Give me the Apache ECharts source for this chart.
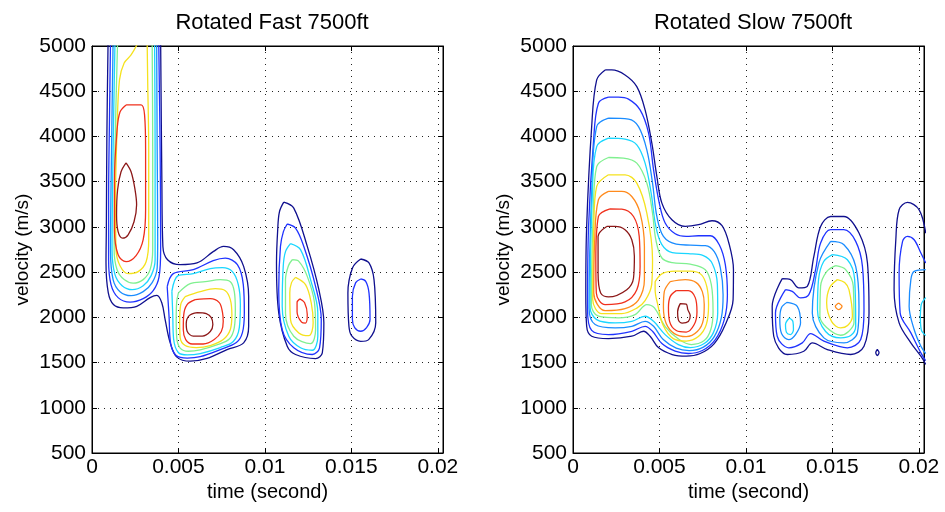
<!DOCTYPE html>
<html>
<head>
<meta charset="utf-8">
<script src="https://cdn.jsdelivr.net/npm/echarts@6/dist/echarts.min.js"></script>
<style>
html, body { margin: 0; padding: 0; background: #fff; }
#chart { width: 945px; height: 512px; }
</style>
</head>
<body>
<div id="chart"></div>
<script>
// contour lines, points are [time (ms), velocity (m/s)]
// level number 1 (lowest) .. 9 (highest) goes with each line further down

const xTickLabels = ['0', '0.005', '0.01', '0.015', '0.02'];
const titles = ['Rotated Fast 7500ft', 'Rotated Slow 7500ft'];

// ---- Rotated Fast ----
const fastOuter = [[0.93,5050],[0.86,4000],[0.83,3000],[0.81,2600],[0.94,2273],[1.24,2141],[1.81,2104],[2.59,2122],[3.36,2218],[3.75,2243],[4.04,2159],[4.23,1975],[4.52,1721],[4.91,1560],[5.68,1515],[6.65,1545],[7.81,1644],[8.77,1718],[9.06,1901],[9.06,2232],[8.77,2563],[8.19,2748],[7.61,2784],[7.03,2729],[6.07,2601],[5.10,2582],[4.37,2637],[4.10,2784],[4.04,3521],[3.97,5050]];
const fastTallBlue = [[1.07,5050],[1.01,4183],[0.96,3300],[0.96,2637],[1.10,2362],[1.51,2218],[2.20,2168],[2.96,2207],[3.54,2295],[3.88,2450],[3.97,2748],[3.94,3852],[3.86,5050]];
const fastTallAzure = [[1.22,5050],[1.13,3852],[1.07,2748],[1.22,2417],[1.62,2284],[2.26,2240],[2.96,2284],[3.48,2384],[3.77,2549],[3.80,2858],[3.77,3852],[3.74,5050]];
const fastTallCyan = [[1.33,5050],[1.22,3852],[1.16,2748],[1.33,2472],[1.74,2350],[2.32,2306],[2.96,2350],[3.42,2461],[3.65,2637],[3.65,3852],[3.62,5050]];
const fastTallGreen = [[1.48,5050],[1.33,3852],[1.28,2748],[1.45,2527],[1.86,2417],[2.38,2378],[2.96,2417],[3.36,2527],[3.51,2748],[3.51,3852],[3.48,5050]];
const fastTallYellow = [[2.70,5050],[2.26,4901],[1.86,4812],[1.59,4625],[1.45,4073],[1.36,3300],[1.39,2748],[1.62,2571],[2.09,2483],[2.67,2505],[3.13,2615],[3.28,2858],[3.28,3852],[3.22,4625],[3.19,5050]];
const fastTallRed = [[1.97,4349],[2.84,4349],[3.04,4238],[3.10,3852],[3.10,3189],[2.96,2858],[2.55,2682],[1.97,2615],[1.51,2693],[1.30,2969],[1.30,3521],[1.45,4073],[1.62,4271],[1.97,4349]];
const fastTallDark = [[1.97,3708],[2.26,3609],[2.49,3410],[2.58,3245],[2.43,3057],[2.09,2913],[1.77,2875],[1.51,2947],[1.42,3134],[1.48,3410],[1.68,3609],[1.97,3708]];
const fastMidBlue = [[4.35,2339],[4.70,2483],[5.86,2527],[7.01,2626],[7.71,2654],[8.41,2582],[8.75,2362],[8.81,2052],[8.70,1831],[8.35,1721],[7.42,1644],[6.26,1566],[5.51,1550],[4.87,1578],[4.55,1710],[4.46,1997],[4.35,2339]];
const fastMidCyan = [[4.62,2290],[4.98,2461],[5.86,2483],[6.84,2538],[7.54,2549],[8.12,2505],[8.46,2362],[8.58,2141],[8.52,1887],[8.17,1732],[7.42,1666],[6.26,1600],[5.51,1585],[4.99,1611],[4.72,1760],[4.67,2030],[4.62,2290]];
const fastMidGreen = [[5.00,2270],[5.68,2372],[6.55,2394],[7.42,2417],[8.00,2394],[8.23,2284],[8.29,2085],[8.23,1887],[7.94,1760],[7.30,1700],[6.26,1640],[5.57,1625],[5.10,1660],[4.90,1776],[4.87,1975],[4.90,2174],[5.00,2270]];
const fastMidYellow = [[5.39,2229],[6.26,2284],[7.13,2317],[7.71,2295],[8.00,2196],[8.09,2030],[8.00,1865],[7.59,1754],[6.84,1688],[6.03,1666],[5.39,1688],[5.10,1776],[5.07,1953],[5.13,2141],[5.39,2229]];
const fastMidRed = [[5.97,2196],[6.84,2207],[7.36,2163],[7.54,2063],[7.59,1953],[7.48,1843],[7.07,1754],[6.43,1705],[5.80,1705],[5.42,1754],[5.28,1865],[5.30,2019],[5.50,2141],[5.97,2196]];
const fastMidDark = [[6.09,2052],[6.61,2041],[6.90,1997],[6.99,1920],[6.84,1843],[6.38,1793],[5.86,1793],[5.51,1843],[5.45,1931],[5.62,2019],[6.09,2052]];
const fastCNavy = [[11.09,3274],[11.67,3208],[12.45,2784],[13.12,2306],[13.41,1939],[13.32,1607],[12.93,1544],[11.77,1589],[11.29,1680],[10.80,2049],[10.67,2601],[10.74,2969],[10.84,3167],[11.09,3274]];
const fastCBlue = [[11.29,3032],[11.77,2987],[12.25,2784],[12.93,2343],[13.26,1975],[13.16,1663],[12.74,1589],[11.67,1663],[11.00,1865],[10.80,2306],[10.90,2784],[11.07,2947],[11.29,3032]];
const fastCCyan = [[11.48,2814],[12.06,2748],[12.64,2417],[13.06,2049],[13.06,1791],[12.74,1636],[12.06,1663],[11.38,1791],[11.00,2122],[11.06,2564],[11.19,2726],[11.48,2814]];
const fastCGreen = [[11.58,2637],[11.96,2618],[12.45,2453],[12.87,2159],[12.93,1865],[12.64,1710],[11.67,1791],[11.19,2049],[11.19,2417],[11.36,2571],[11.58,2637]];
const fastCYellow = [[11.77,2442],[12.35,2361],[12.68,2159],[12.79,1939],[12.54,1798],[11.96,1828],[11.48,1975],[11.44,2270],[11.54,2384],[11.77,2442]];
const fastCRed = [[12.02,2204],[12.29,2163],[12.45,2030],[12.35,1936],[12.12,1947],[11.86,2063],[11.86,2163],[12.02,2204]];
const fastDNavy = [[15.54,2645],[16.02,2601],[16.31,2417],[16.41,1939],[16.00,1754],[15.54,1735],[15.01,1798],[14.86,1901],[14.80,2270],[15.07,2549],[15.54,2645]];
const fastDBlue = [[15.54,2424],[15.83,2398],[16.02,2270],[16.08,1975],[15.88,1887],[15.54,1846],[15.19,1887],[15.06,1975],[15.06,2232],[15.25,2384],[15.54,2424]];

// ---- Rotated Slow ----
const slowNavy = [[1.86,4735],[1.37,4625],[1.08,4109],[0.79,3005],[0.74,2269],[0.79,1901],[1.08,1791],[2.05,1765],[3.40,1791],[4.08,1846],[4.46,1791],[4.94,1666],[5.74,1589],[6.55,1570],[7.36,1600],[8.17,1710],[8.81,1920],[9.26,2196],[9.28,2527],[9.04,2803],[8.62,3013],[8.04,3068],[7.26,3024],[6.49,3005],[5.72,3079],[5.14,3263],[4.85,3557],[4.56,3926],[4.17,4293],[3.69,4551],[3.01,4680],[2.24,4735],[1.86,4735]];
const slowBlue = [[2.05,4434],[1.47,4367],[1.18,3926],[0.90,3005],[0.84,2085],[1.08,1855],[2.05,1809],[3.40,1846],[4.17,1901],[4.60,1846],[5.14,1710],[5.91,1627],[6.67,1600],[7.48,1633],[8.23,1754],[8.75,1975],[8.93,2251],[8.81,2582],[8.46,2803],[7.94,2902],[7.25,2902],[6.55,2895],[5.91,2924],[5.33,3043],[4.99,3263],[4.66,3631],[4.37,4036],[3.88,4293],[3.21,4412],[2.63,4434],[2.05,4434]];
const slowAzure = [[2.05,4202],[1.37,4109],[1.08,3374],[0.93,2100],[1.28,1920],[2.43,1883],[3.40,1901],[4.17,1956],[4.66,1901],[5.22,1754],[5.97,1660],[6.72,1633],[7.54,1671],[8.17,1787],[8.58,1997],[8.68,2251],[8.52,2549],[8.17,2726],[7.65,2792],[6.78,2798],[5.97,2809],[5.23,2895],[4.85,3115],[4.60,3484],[4.27,3852],[3.79,4109],[3.21,4191],[2.05,4202]];
const slowCyan = [[2.05,3981],[1.37,3888],[1.12,3374],[0.99,2110],[1.37,1975],[2.43,1939],[3.40,1956],[4.17,2012],[4.66,1956],[5.33,1809],[6.09,1699],[6.78,1666],[7.59,1710],[8.12,1831],[8.37,2052],[8.35,2362],[8.06,2593],[7.54,2682],[6.67,2704],[5.74,2715],[5.14,2803],[4.79,3005],[4.52,3374],[4.17,3705],[3.69,3907],[3.01,3970],[2.05,3981]];
const slowGreen = [[2.05,3767],[1.37,3667],[1.18,3189],[1.06,2140],[1.47,2012],[2.63,1994],[3.59,2030],[4.27,2141],[4.71,2104],[5.33,1898],[6.14,1754],[6.84,1699],[7.59,1743],[7.97,1865],[8.10,2063],[8.00,2362],[7.65,2527],[6.78,2588],[5.74,2604],[5.14,2656],[4.79,2858],[4.60,3153],[4.27,3484],[3.69,3705],[2.92,3760],[2.05,3767]];
const slowYellowA = [[2.05,3576],[1.37,3447],[1.20,3005],[1.14,2196],[1.66,2041],[2.82,2041],[3.69,2102],[4.17,2185],[4.55,2362],[4.60,2637],[4.27,3153],[3.69,3484],[3.01,3576],[2.05,3576]];
const slowYellowB = [[4.75,2395],[5.16,2483],[5.91,2510],[6.78,2510],[7.42,2472],[7.74,2339],[7.84,2141],[7.71,1920],[7.25,1787],[6.55,1738],[5.80,1765],[5.22,1909],[4.90,2141],[4.75,2306],[4.75,2395]];
const slowOrangeA = [[2.05,3392],[1.47,3300],[1.25,2822],[1.20,2270],[1.86,2074],[3.01,2096],[3.78,2190],[4.13,2417],[4.13,2784],[3.88,3153],[3.40,3336],[2.82,3392],[2.05,3392]];
const slowOrangeB = [[5.62,2395],[6.49,2417],[7.13,2384],[7.48,2284],[7.59,2141],[7.54,1975],[7.19,1843],[6.55,1787],[5.86,1820],[5.39,1931],[5.23,2108],[5.28,2284],[5.62,2395]];
const slowRedA = [[2.14,3200],[1.47,3115],[1.32,2637],[1.35,2270],[1.86,2140],[3.01,2170],[3.69,2306],[3.88,2563],[3.83,2895],[3.50,3115],[2.82,3197],[2.14,3200]];
const slowRedB = [[5.97,2295],[6.67,2295],[7.07,2218],[7.17,2063],[7.01,1920],[6.55,1837],[5.97,1854],[5.59,1953],[5.52,2108],[5.62,2229],[5.97,2295]];
const slowDarkA = [[1.95,3005],[1.45,2895],[1.45,2490],[1.60,2270],[2.05,2226],[3.11,2306],[3.50,2435],[3.55,2674],[3.40,2858],[3.01,2969],[2.43,3005],[1.95,3005]];
const slowDarkB = [[6.20,2152],[6.55,2146],[6.64,2085],[6.78,2019],[6.67,1953],[6.32,1936],[6.09,1975],[6.05,2063],[6.20,2152]];
const slowCNavy = [[12.10,2428],[12.58,2417],[13.06,2325],[13.55,2343],[13.93,2674],[14.32,3005],[14.90,3115],[15.67,3115],[16.54,2932],[17.03,2601],[17.12,2049],[16.83,1680],[16.06,1589],[14.71,1644],[13.84,1718],[13.35,1625],[12.39,1589],[11.61,1791],[11.52,2122],[12.10,2428]];
const slowCBlue = [[12.29,2306],[12.68,2287],[13.16,2215],[13.64,2251],[14.03,2527],[14.32,2822],[14.90,2969],[15.67,2969],[16.35,2840],[16.74,2564],[16.83,2085],[16.64,1754],[15.87,1663],[14.51,1736],[13.74,1820],[13.26,1718],[12.48,1663],[11.81,1791],[11.71,2049],[12.29,2306]];
const slowCLeftAzure = [[12.39,2166],[12.97,2122],[13.16,1939],[12.87,1809],[12.48,1754],[12.06,1820],[11.96,1975],[12.06,2108],[12.39,2166]];
const slowCLeftCyan = [[12.52,1992],[12.72,1953],[12.75,1865],[12.58,1809],[12.35,1832],[12.29,1920],[12.52,1992]];
const slowCAzure = [[14.90,2839],[15.67,2803],[16.35,2564],[16.54,2122],[16.45,1828],[15.67,1718],[14.51,1773],[13.84,2049],[14.22,2601],[14.90,2839]];
const slowCCyan = [[15.00,2693],[15.87,2637],[16.29,2417],[16.35,1901],[16.06,1798],[15.48,1773],[14.61,1843],[14.14,2085],[14.20,2417],[14.49,2615],[15.00,2693]];
const slowCGreen = [[15.19,2571],[15.77,2527],[16.21,2343],[16.25,1939],[15.94,1843],[15.48,1802],[14.67,1887],[14.28,2012],[14.32,2343],[14.67,2505],[15.19,2571]];
const slowCYellow = [[15.29,2417],[15.71,2384],[15.96,2306],[16.16,2012],[15.88,1909],[15.48,1883],[14.96,1953],[14.67,2159],[14.84,2328],[15.29,2417]];
const slowCOrange = [[15.36,2159],[15.56,2122],[15.36,2085],[15.17,2122],[15.36,2159]];
const slowSpeck = [[17.60,1644],[17.70,1611],[17.60,1578],[17.51,1611],[17.60,1644]];
const slowENavy = [[20.40,2930],[20.02,3189],[19.34,3270],[18.86,3189],[18.67,2858],[18.57,2306],[18.86,1939],[19.54,1718],[20.12,1570],[20.40,1480]];
const slowEBlue = [[20.40,2600],[20.12,2711],[19.73,2858],[19.34,2895],[19.06,2840],[18.86,2490],[18.92,2049],[19.54,1828],[20.12,1607],[20.40,1520]];
const slowEAzure = [[20.40,2527],[19.73,2508],[19.54,2417],[19.44,2122],[19.73,1865],[20.12,1680],[20.40,1600]];
const slowECyan = [[20.40,2218],[20.14,2141],[20.09,1997],[20.14,1865],[20.40,1798]];

const fastLines = [
  [fastOuter, 1], [fastTallBlue, 2], [fastTallAzure, 3], [fastTallCyan, 4], [fastTallGreen, 5],
  [fastTallYellow, 6], [fastTallRed, 8], [fastTallDark, 9],
  [fastMidBlue, 2], [fastMidCyan, 4], [fastMidGreen, 5], [fastMidYellow, 6], [fastMidRed, 8], [fastMidDark, 9],
  [fastCNavy, 1], [fastCBlue, 2], [fastCCyan, 4], [fastCGreen, 5], [fastCYellow, 6], [fastCRed, 8],
  [fastDNavy, 1], [fastDBlue, 2]
];
const slowLines = [
  [slowNavy, 1], [slowBlue, 2], [slowAzure, 3], [slowCyan, 4], [slowGreen, 5],
  [slowYellowA, 6], [slowYellowB, 6], [slowOrangeA, 7], [slowOrangeB, 7],
  [slowRedA, 8], [slowRedB, 8], [slowDarkA, 9], [slowDarkB, 9],
  [slowCNavy, 1], [slowCBlue, 2], [slowCLeftAzure, 3], [slowCLeftCyan, 4],
  [slowCAzure, 3], [slowCCyan, 4], [slowCGreen, 5], [slowCYellow, 6], [slowCOrange, 7],
  [slowSpeck, 1], [slowENavy, 1], [slowEBlue, 2], [slowEAzure, 3], [slowECyan, 4]
];

const levelColors = ['#10108e', '#1f33ff', '#1a8cff', '#1ad6ff', '#80f090', '#f5e21e', '#ff8a1c', '#f0301c', '#8c1818'];
const FONT = '"Liberation Sans", Arial, Helvetica, sans-serif';

const chart = echarts.init(document.getElementById('chart'), null, { renderer: 'canvas' });

const grids = [
  { left: 92, top: 46, width: 351, height: 407, show: true, borderColor: '#000', borderWidth: 1 },
  { left: 573, top: 46, width: 351, height: 407, show: true, borderColor: '#000', borderWidth: 1 }
];

function xAxisFor(g, pos) {
  const main = pos === 'bottom';
  return {
    type: 'value', gridIndex: g, position: pos, min: 0, max: 0.0203, interval: 0.005,
    axisLine: { show: true, onZero: false, lineStyle: { color: '#000', width: 1 } },
    axisTick: { show: true, inside: true, length: 5, lineStyle: { color: '#000' } },
    axisLabel: main ? {
      show: true, margin: 4, color: '#000', fontSize: 21, fontFamily: FONT, showMaxLabel: false,
      formatter: v => { const i = Math.round(v / 0.005); return Math.abs(v - i * 0.005) < 1e-6 ? (xTickLabels[i] || '') : ''; }
    } : { show: false },
    splitLine: main ? { show: true, lineStyle: { color: '#222', type: [1, 5], width: 1 } } : { show: false },
    name: main ? 'time (second)' : '', nameLocation: 'middle', nameGap: 29,
    nameTextStyle: { color: '#000', fontSize: 20, fontFamily: FONT }
  };
}
function yAxisFor(g, pos) {
  const main = pos === 'left';
  return {
    type: 'value', gridIndex: g, position: pos, min: 500, max: 5000, interval: 500,
    axisLine: { show: true, onZero: false, lineStyle: { color: '#000', width: 1 } },
    axisTick: { show: true, inside: true, length: 5, lineStyle: { color: '#000' } },
    axisLabel: main ? { show: true, margin: 6, color: '#000', fontSize: 21, fontFamily: FONT, formatter: v => String(v) } : { show: false },
    splitLine: main ? { show: true, lineStyle: { color: '#222', type: [1, 5], width: 1 } } : { show: false },
    name: main ? 'velocity (m/s)' : '', nameLocation: 'middle', nameGap: 60,
    nameTextStyle: { color: '#000', fontSize: 19, fontFamily: FONT }
  };
}

function toSeries(lines, ax) {
  return lines.map(([pts, lvl]) => ({
    type: 'line', xAxisIndex: ax, yAxisIndex: ax,
    data: pts.map(p => [p[0] / 1000, p[1]]),
    smooth: 0.35, symbol: 'none', showSymbol: false, silent: true, clip: true,
    lineStyle: { color: levelColors[lvl - 1], width: 1.3 }
  }));
}

chart.setOption({
  animation: false,
  backgroundColor: '#fff',
  title: [
    { text: titles[0], left: 267, top: 7, textAlign: 'center', textStyle: { color: '#000', fontSize: 22, fontWeight: 'normal', fontFamily: FONT } },
    { text: titles[1], left: 748, top: 7, textAlign: 'center', textStyle: { color: '#000', fontSize: 22, fontWeight: 'normal', fontFamily: FONT } }
  ],
  grid: grids,
  xAxis: [xAxisFor(0, 'bottom'), xAxisFor(0, 'top'), xAxisFor(1, 'bottom'), xAxisFor(1, 'top')],
  yAxis: [yAxisFor(0, 'left'), yAxisFor(0, 'right'), yAxisFor(1, 'left'), yAxisFor(1, 'right')],
  series: toSeries(fastLines, 0).concat(toSeries(slowLines, 2))
});
</script>
</body>
</html>
